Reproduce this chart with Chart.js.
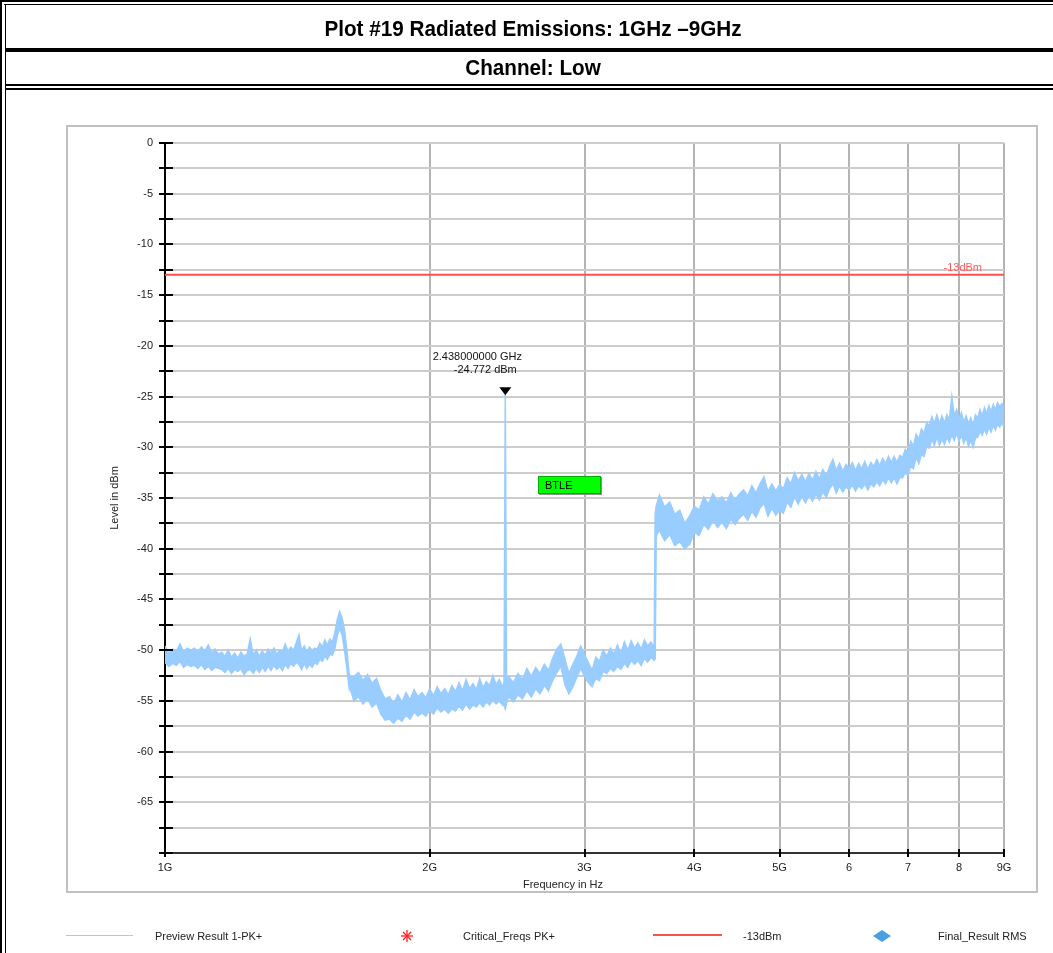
<!DOCTYPE html>
<html>
<head>
<meta charset="utf-8">
<title>Plot #19 Radiated Emissions: 1GHz –9GHz</title>
<script src="https://cdn.jsdelivr.net/npm/chart.js@4.4.1/dist/chart.umd.min.js"></script>
<style>
    body { margin: 0; background: #fff; font-family: "Liberation Sans", Arial, sans-serif; }
    #pagina { position: relative; width: 1053px; height: 953px; overflow: hidden; }
    #grafico { position: absolute; left: 0; top: 0; }
    .linha { position: absolute; background: #000; }
    .titulo {
        position: absolute; left: 8px; width: 1050px; text-align: center;
        font-family: "Liberation Sans", Arial, sans-serif;
        font-weight: bold; font-size: 22px; line-height: 24px; color: #000;
        transform: scaleX(0.94); transform-origin: 525px 0;
    }
    .legenda { position: absolute; top: 930px; font-size: 11px; line-height: 13px; color: #222; }
    .marca { position: absolute; }
</style>
</head>
<body>
<div id="pagina">
    <canvas id="grafico" width="1053" height="953"></canvas>

    <!-- moldura da pagina -->
    <div class="linha" style="left:0;top:0;width:1053px;height:2px"></div>
    <div class="linha" style="left:4px;top:4px;width:1049px;height:1px"></div>
    <div class="linha" style="left:0;top:0;width:2px;height:953px"></div>
    <div class="linha" style="left:5px;top:4px;width:1px;height:949px"></div>
    <div class="linha" style="left:5px;top:48px;width:1048px;height:4px"></div>
    <div class="linha" style="left:5px;top:84px;width:1048px;height:2px"></div>
    <div class="linha" style="left:5px;top:88px;width:1048px;height:2px"></div>

    <div class="titulo" style="top:17px">Plot #19 Radiated Emissions: 1GHz –9GHz</div>
    <div class="titulo" style="top:56px">Channel: Low</div>

    <!-- legenda -->
    <div class="marca" style="left:66px;top:935px;width:67px;height:1px;background:#99ccff"></div>
    <div class="legenda" style="left:155px">Preview Result 1-PK+</div>
    <svg class="marca" style="left:401px;top:930px" width="12" height="12">
        <g stroke="#ff2020" stroke-width="1.3">
            <line x1="6" y1="0" x2="6" y2="12"/>
            <line x1="0" y1="6" x2="12" y2="6"/>
            <line x1="2" y1="2" x2="10" y2="10"/>
            <line x1="10" y1="2" x2="2" y2="10"/>
        </g>
    </svg>
    <div class="legenda" style="left:463px">Critical_Freqs PK+</div>
    <div class="marca" style="left:653px;top:934px;width:69px;height:2px;background:#ff5050"></div>
    <div class="legenda" style="left:743px">-13dBm</div>
    <svg class="marca" style="left:873px;top:930px" width="18" height="12">
        <polygon points="9,0 18,6 9,12 0,6" fill="#4a9fe0"/>
    </svg>
    <div class="legenda" style="left:938px">Final_Result RMS</div>
</div>

<script>
const xTicks = [1000, 2000, 3000, 4000, 5000, 6000, 7000, 8000, 9000];
const xTickLabels = ['1G', '2G', '3G', '4G', '5G', '6', '7', '8', '9G'];

const limiteDbm = -13;
const marcadorFreq = 2438;
const marcadorNivel = -24.772;
const btleFreq = 2656;
const btleNivel = -32.8;

// varredura PK+ : cada ponto da tela tem o maximo e o minimo (MHz / dBm)
const freqMHz = [
    1000, 1010, 1020, 1030, 1040, 1050, 1060, 1070,
    1080, 1090, 1100, 1110, 1120, 1130, 1140, 1150,
    1160, 1170, 1180, 1190, 1200, 1210, 1220, 1230,
    1240, 1250, 1260, 1270, 1280, 1290, 1300, 1310,
    1320, 1330, 1340, 1350, 1360, 1370, 1380, 1390,
    1400, 1410, 1420, 1430, 1440, 1450, 1460, 1470,
    1480, 1490, 1500, 1510, 1520, 1530, 1540, 1550,
    1560, 1570, 1580, 1590, 1600, 1610, 1620, 1630,
    1640, 1660, 1680, 1700, 1720, 1740, 1760, 1780,
    1800, 1820, 1840, 1860, 1880, 1900, 1920, 1940,
    1960, 1980, 2000, 2020, 2040, 2060, 2080, 2100,
    2120, 2140, 2160, 2180, 2200, 2220, 2240, 2260,
    2280, 2300, 2320, 2340, 2360, 2380, 2400, 2420,
    2430, 2438, 2446,
    2460, 2490, 2520, 2550, 2580, 2610, 2640, 2670,
    2700, 2730, 2760, 2790, 2820, 2850, 2880, 2910,
    2940, 2970, 3000, 3030, 3060, 3090, 3120, 3150,
    3180, 3210, 3240, 3270, 3300, 3330, 3360, 3390,
    3420, 3450, 3480, 3510, 3540, 3570, 3600, 3610,
    3620, 3650, 3700, 3750, 3800, 3850, 3900, 3950,
    4000, 4050, 4100, 4150, 4200, 4250, 4300, 4350,
    4400, 4450, 4500, 4550, 4600, 4650, 4700, 4750,
    4800, 4850, 4900, 4950, 5000, 5050, 5100, 5150,
    5200, 5250, 5300, 5350, 5400, 5450, 5500, 5550,
    5600, 5650, 5700, 5750, 5800, 5850, 5900, 5950,
    6000, 6050, 6100, 6150, 6200, 6250, 6300, 6350,
    6400, 6450, 6500, 6550, 6600, 6650, 6700, 6750,
    6800, 6850, 6900, 6950, 7000, 7050, 7100, 7150,
    7200, 7250, 7300, 7350, 7400, 7450, 7500, 7550,
    7600, 7650, 7700, 7750, 7800, 7850, 7900, 7950,
    8000, 8050, 8100, 8150, 8200, 8250, 8300, 8350,
    8400, 8450, 8500, 8550, 8600, 8650, 8700, 8750,
    8800, 8850, 8900, 8950, 9000
];

const nivelMaxDbm = [
    -49.6, -50.3, -49.9, -50.1, -49.4, -50.2, -49.8, -50.0,
    -49.8, -50.2, -49.7, -50.1, -49.5, -50.3, -49.9, -50.4,
    -50.2, -50.6, -50.0, -50.7, -50.3, -50.8, -50.2, -50.6,
    -50.4, -48.9, -50.5, -50.0, -50.6, -50.1, -50.5, -49.9,
    -50.3, -49.8, -50.4, -50.0, -50.2, -49.4, -50.1, -49.7,
    -50.0, -49.3, -48.5, -50.1, -49.6, -50.2, -49.7, -50.0,
    -49.8, -49.9, -49.3, -49.7, -49.0, -49.5, -48.9, -49.2,
    -48.3, -47.0, -46.2, -46.8, -48.0, -50.0, -52.4, -52.6,
    -52.6, -52.2, -53.0, -52.4, -53.3, -52.8, -54.0, -54.8,
    -54.6, -55.3, -54.4, -55.1, -54.2, -54.9, -53.9, -54.6,
    -54.2, -54.7, -53.8, -54.5, -53.6, -54.3, -53.8, -54.4,
    -53.5, -54.1, -53.2, -54.0, -52.9, -53.8, -53.3, -53.9,
    -52.8, -53.7, -53.1, -53.5, -52.5, -53.4, -52.9, -53.6,
    -53.2, -24.772, -53.0,
    -52.6, -53.2, -52.3, -52.9, -51.8, -52.6, -51.7, -52.3,
    -51.4, -52.0, -50.8, -49.9, -49.4, -50.9, -52.3, -51.4,
    -50.6, -49.6, -50.4, -51.2, -52.0, -50.7, -51.1, -50.0,
    -50.6, -49.8, -50.4, -49.5, -50.3, -49.2, -50.0, -49.1,
    -49.8, -49.3, -49.9, -49.0, -49.6, -49.2, -49.7, -36.5,
    -35.8, -34.7, -35.9, -35.4, -36.6, -36.2, -37.5, -36.8,
    -35.8, -36.2, -34.9, -35.6, -34.6, -35.3, -34.9, -35.5,
    -34.5, -35.2, -34.6, -34.2, -34.8, -33.8, -34.5, -33.6,
    -32.9, -34.4, -33.6, -34.3, -33.7, -34.1, -33.0, -33.6,
    -32.5, -33.3, -32.7, -33.4, -32.6, -33.2, -32.4, -33.1,
    -32.2, -32.8, -31.9, -31.2, -32.3, -31.6, -32.4, -31.7,
    -32.1, -31.5, -32.3, -31.6, -32.1, -31.4, -32.2, -31.5,
    -31.9, -31.2, -31.8, -31.1, -31.6, -30.9, -31.5, -30.9,
    -31.5, -30.8, -31.0, -30.2, -30.6, -29.4, -29.9, -28.7,
    -29.2, -28.2, -28.6, -27.6, -27.9, -27.0, -27.6, -26.8,
    -27.7, -26.9, -27.6, -26.8, -27.3, -25.0, -26.9, -26.3,
    -27.2, -26.6, -27.5, -26.9, -27.7, -27.1, -27.9, -26.8,
    -27.1, -26.3, -26.9, -26.1, -26.7, -25.9, -26.5, -25.8,
    -26.3, -25.6, -26.0, -25.7, -26.1
];

const nivelMinDbm = [
    -51.2, -51.6, -51.3, -51.5, -51.1, -51.7, -51.4, -51.6,
    -51.5, -51.8, -51.4, -51.9, -51.6, -52.0, -51.7, -51.8,
    -51.9, -52.2, -51.8, -52.3, -51.9, -52.1, -51.8, -52.4,
    -52.0, -51.9, -52.3, -51.8, -52.2, -51.7, -52.1, -51.6,
    -52.0, -51.5, -51.9, -51.6, -52.0, -51.4, -51.8, -51.3,
    -51.6, -51.2, -51.4, -51.9, -51.3, -51.8, -51.4, -51.7,
    -51.2, -51.4, -50.9, -51.1, -50.6, -50.9, -50.4, -50.5,
    -49.9, -48.6, -47.8, -48.5, -50.0, -51.8, -53.8, -54.2,
    -55.0, -54.6, -55.3, -54.8, -55.6, -55.2, -56.3, -56.9,
    -56.8, -57.2, -56.7, -57.0, -56.4, -56.8, -56.1, -56.5,
    -56.2, -56.5, -55.9, -56.3, -55.7, -56.1, -55.8, -56.2,
    -55.8, -56.0, -55.5, -55.9, -55.3, -55.8, -55.4, -55.6,
    -55.2, -55.6, -55.1, -55.4, -54.9, -55.3, -55.0, -55.4,
    -55.5, -55.8, -55.2,
    -54.6, -55.1, -54.4, -54.8, -54.0, -54.6, -53.8, -54.3,
    -53.5, -54.0, -53.0, -52.2, -51.6, -53.4, -54.3, -53.6,
    -52.7, -51.8, -52.6, -53.2, -53.6, -52.8, -53.0, -52.1,
    -52.3, -51.8, -52.1, -51.6, -51.9, -51.3, -51.7, -51.0,
    -51.4, -51.0, -51.5, -50.8, -51.2, -50.7, -51.0, -50.9,
    -38.7, -38.2, -39.2, -38.6, -39.7, -39.3, -40.0, -39.6,
    -38.4, -38.7, -37.6, -38.1, -37.2, -37.9, -37.4, -38.0,
    -37.1, -37.6, -37.0, -36.6, -37.2, -36.3, -36.9, -36.0,
    -35.5, -36.8, -36.0, -36.7, -36.2, -36.5, -35.4, -35.9,
    -34.9, -35.6, -34.8, -35.5, -34.7, -35.3, -34.6, -35.2,
    -34.4, -34.9, -34.1, -33.6, -34.5, -33.8, -34.4, -33.9,
    -34.2, -33.7, -34.3, -33.8, -34.1, -33.6, -34.2, -33.6,
    -33.9, -33.4, -33.8, -33.2, -33.6, -33.0, -33.5, -33.0,
    -33.6, -33.0, -33.0, -32.5, -32.8, -31.8, -32.1, -31.0,
    -31.6, -30.7, -30.9, -29.9, -30.1, -29.2, -29.8, -29.0,
    -29.8, -29.2, -29.7, -29.0, -29.5, -28.8, -29.3, -28.6,
    -29.4, -28.8, -29.6, -29.0, -29.9, -29.3, -30.0, -29.1,
    -29.0, -28.4, -28.8, -28.2, -28.7, -28.0, -28.5, -27.8,
    -28.3, -27.7, -28.0, -27.6, -28.0
];

let pontosMax = [];
let pontosMin = [];
for (let i = 0; i < freqMHz.length; i++) {
    pontosMax.push({ x: freqMHz[i], y: nivelMaxDbm[i] });
    pontosMin.push({ x: freqMHz[i], y: nivelMinDbm[i] });
}

const extras = {
    id: 'extras',
    beforeDraw(chart) {
        const c = chart.ctx;
        c.save();
        c.fillStyle = '#fff';
        c.fillRect(67, 126, 970, 766);
        c.strokeStyle = '#c0c0c0';
        c.lineWidth = 2;
        c.strokeRect(67, 126, 970, 766);
        c.restore();
    },
    afterDraw(chart) {
        const c = chart.ctx;
        const xs = chart.scales.x;
        const ys = chart.scales.y;
        const area = chart.chartArea;
        c.save();

        // marcas dos eixos
        c.strokeStyle = '#000';
        c.lineWidth = 2;
        c.beginPath();
        ys.ticks.forEach(function (t) {
            const y = Math.round(ys.getPixelForValue(t.value));
            c.moveTo(area.left - 6, y);
            c.lineTo(area.left + 8, y);
        });
        xTicks.forEach(function (v) {
            const x = Math.round(xs.getPixelForValue(v));
            c.moveTo(x, area.bottom - 4);
            c.lineTo(x, area.bottom + 4);
        });
        c.stroke();

        c.font = '11px "Liberation Sans", Arial, sans-serif';

        // rotulo do limite
        c.fillStyle = '#ff5a5a';
        c.textAlign = 'right';
        c.textBaseline = 'bottom';
        c.fillText('-13dBm', area.right - 22, ys.getPixelForValue(limiteDbm) - 1);

        // marcador do pico
        const mx = xs.getPixelForValue(marcadorFreq);
        const my = ys.getPixelForValue(marcadorNivel);
        c.fillStyle = '#000';
        c.beginPath();
        c.moveTo(mx - 6, my - 7);
        c.lineTo(mx + 6, my - 7);
        c.lineTo(mx, my + 1);
        c.closePath();
        c.fill();
        c.textAlign = 'center';
        c.textBaseline = 'middle';
        c.fillStyle = '#111';
        c.fillText(marcadorFreq / 1000 + '000000 GHz', mx - 28, my - 37);
        c.fillText(marcadorNivel.toFixed(3) + ' dBm', mx - 20, my - 24);

        // caixa BTLE
        const bx = Math.round(xs.getPixelForValue(btleFreq));
        const by = Math.round(ys.getPixelForValue(btleNivel));
        c.fillStyle = '#909090';
        c.fillRect(bx + 1, by + 1, 63, 18);
        c.fillStyle = '#00ff00';
        c.fillRect(bx, by, 63, 18);
        c.strokeStyle = '#00b000';
        c.lineWidth = 1;
        c.strokeRect(bx + 0.5, by + 0.5, 62, 17);
        c.fillStyle = '#000';
        c.textAlign = 'left';
        c.fillText('BTLE', bx + 7, by + 10);

        // titulo do eixo x
        c.fillStyle = '#222';
        c.textAlign = 'center';
        c.fillText('Frequency in Hz', 563, 885);

        c.restore();
    }
};

new Chart(document.getElementById('grafico'), {
    type: 'line',
    data: {
        datasets: [
            {
                label: 'Preview Result 1-PK+',
                data: pontosMax,
                borderColor: '#99ccff',
                backgroundColor: '#99ccff',
                borderWidth: 1.5,
                pointRadius: 0,
                tension: 0,
                fill: '+1'
            },
            {
                label: 'Preview Result 1-PK+ (min)',
                data: pontosMin,
                borderColor: '#99ccff',
                borderWidth: 1.5,
                pointRadius: 0,
                tension: 0,
                fill: false
            },
            {
                label: '-13dBm',
                data: [{ x: xTicks[0], y: limiteDbm }, { x: xTicks[xTicks.length - 1], y: limiteDbm }],
                borderColor: '#ff5050',
                borderWidth: 2,
                pointRadius: 0,
                fill: false
            }
        ]
    },
    options: {
        responsive: false,
        animation: false,
        parsing: false,
        layout: {
            padding: { left: 105, right: 49, top: 143, bottom: 55 }
        },
        plugins: {
            legend: { display: false },
            tooltip: { enabled: false }
        },
        scales: {
            x: {
                type: 'logarithmic',
                min: 1000,
                max: 9000,
                afterBuildTicks: function (scale) {
                    scale.ticks = xTicks.map(function (v) { return { value: v }; });
                },
                afterFit: function (scale) {
                    scale.height = 45;
                },
                ticks: {
                    autoSkip: false,
                    maxRotation: 0,
                    padding: 8,
                    color: '#222',
                    font: { family: '"Liberation Sans", Arial, sans-serif', size: 11 },
                    callback: function (value, index) {
                        return xTickLabels[index];
                    }
                },
                grid: { color: '#b4b4b4', lineWidth: 2, drawTicks: false },
                border: { color: '#333', width: 2 }
            },
            y: {
                type: 'linear',
                min: -70,
                max: 0,
                afterFit: function (scale) {
                    scale.width = 60;
                },
                ticks: {
                    stepSize: 2.5,
                    autoSkip: false,
                    padding: 12,
                    color: '#222',
                    font: { family: '"Liberation Sans", Arial, sans-serif', size: 11 },
                    callback: function (value) {
                        if (value % 5 !== 0 || value === -70) return '';
                        return String(value);
                    }
                },
                grid: { color: '#cccccc', lineWidth: 2, drawTicks: false },
                border: { color: '#000', width: 2 },
                title: {
                    display: true,
                    text: 'Level in dBm',
                    color: '#222',
                    padding: { top: 3, bottom: 0 },
                    font: { family: '"Liberation Sans", Arial, sans-serif', size: 11 }
                }
            }
        }
    },
    plugins: [extras]
});
</script>
</body>
</html>
